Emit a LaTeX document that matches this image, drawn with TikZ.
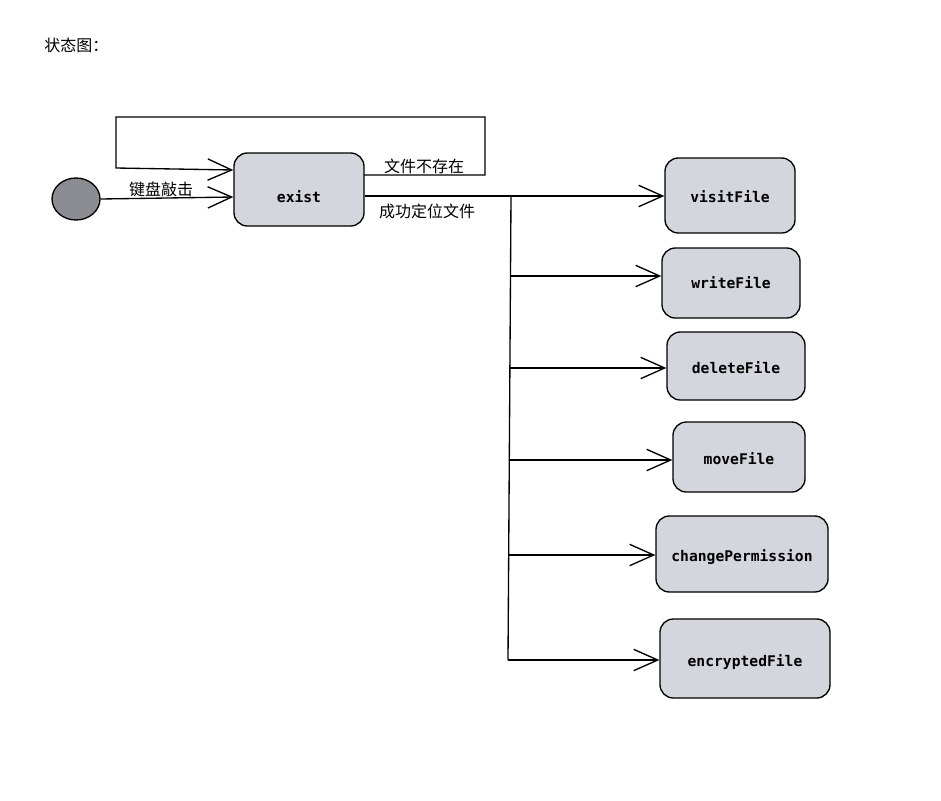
\documentclass[tikz,border=0pt]{standalone}
\usepackage{fontspec}
\newfontfamily\cjk{Noto Sans CJK SC}
\newfontfamily\monof{DejaVu Sans Mono}
\usetikzlibrary{arrows.meta,shapes.geometric}
\definecolor{statefill}{HTML}{D3D6DC}
\definecolor{initfill}{HTML}{8B8D92}
\newcommand{\lowr}[2]{\raisebox{-#1}[\height][\depth]{#2}}
\begin{document}
\begin{tikzpicture}[x=0.75pt,y=-0.75pt,
  stbox/.style={draw=black, line width=1pt, fill=statefill, rounded corners=10pt,
    font=\monof\bfseries\fontsize{11pt}{13pt}\selectfont, inner sep=0pt},
  initst/.style={draw=black, line width=1pt, fill=initfill, ellipse, inner sep=0pt},
  arr/.style={line width=1pt, -{Straight Barb[length=18pt,width=16pt,line width=1pt]}},
  ln/.style={line width=1pt},
  lbl/.style={font=\cjk\fontsize{12pt}{14pt}\selectfont, inner sep=0pt}]
\useasboundingbox (0,0) rectangle (941,800);
\fill[white] (0,0) rectangle (941,800);

\node[lbl, anchor=west] (title) at (44,45) {状态图：};

\node[initst, minimum width=48*0.75pt, minimum height=42*0.75pt] (init) at (76,199) {};

\node[stbox, minimum width=130*0.75pt, minimum height=73*0.75pt] (exist) at (299,189.5) {\lowr{5pt}{exist}};
\node[stbox, minimum width=130*0.75pt, minimum height=75*0.75pt] (visit) at (730,195.5) {\lowr{0.5pt}{visitFile}};
\node[stbox, minimum width=138*0.75pt, minimum height=70*0.75pt] (write) at (731,283) {writeFile};
\node[stbox, minimum width=138*0.75pt, minimum height=68*0.75pt] (delete) at (736,366) {\lowr{1pt}{deleteFile}};
\node[stbox, minimum width=132*0.75pt, minimum height=70*0.75pt] (move) at (739,457) {\lowr{1.5pt}{moveFile}};
\node[stbox, minimum width=172*0.75pt, minimum height=76*0.75pt] (change) at (742,554) {\lowr{2pt}{changePermission}};
\node[stbox, minimum width=170*0.75pt, minimum height=79*0.75pt] (encrypt) at (745,658.5) {\lowr{3pt}{encryptedFile}};

% initial transition
\draw[arr] (init.east) -- (exist.west |- 0,197);
\node[lbl] (lkey) at (161,189) {键盘敲击};

% self loop
\coordinate (la) at (364,175);
\coordinate (lb) at (485,117);
\coordinate (lc) at (116,117);
\coordinate (ld) at (116,168);
\draw[arr] (la) -| (lb) -- (lc) -- (ld) -- (exist.west |- 0,170);
\node[lbl] (lnf) at (424,166) {文件不存在};

% main branch
\coordinate (t0) at (511,196);
\coordinate (t1) at (511,276);
\coordinate (t2) at (510,368);
\coordinate (t3) at (510,460);
\coordinate (t4) at (509,555);
\coordinate (t5) at (508,660);
\draw[arr] (exist.east |- t0) -- (visit.west |- t0);
\node[lbl] (lok) at (427,211) {成功定位文件};
\draw[ln] (t0) -- (t5);
\draw[arr] (t1) -- (write.west |- t1);
\draw[arr] (t2) -- (delete.west |- t2);
\draw[arr] (t3) -- (move.west |- t3);
\draw[arr] (t4) -- (change.west |- t4);
\draw[arr] (t5) -- (encrypt.west |- t5);
\end{tikzpicture}
\end{document}
